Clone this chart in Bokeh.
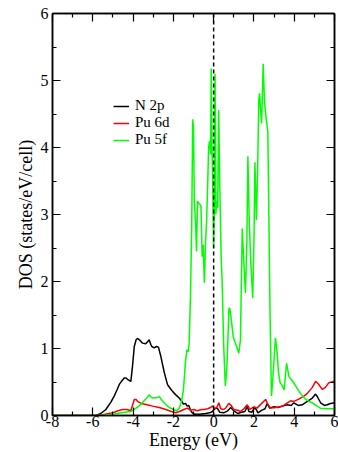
from bokeh.plotting import figure
from bokeh.models import Range1d, FixedTicker, LinearAxis, Span, Legend, LegendItem
from bokeh.embed import file_html
from bokeh.resources import INLINE

# ---- data ----
n2p_e = [-8, -6, -5.85, -5.6, -5.35, -5.1, -4.94, -4.8, -4.69, -4.55, -4.44, -4.35, -4.28, -4.11,
         -4.03, -3.94, -3.85, -3.78, -3.65, -3.53, -3.37, -3.28, -3.2, -3.12, -3.07, -2.95, -2.84,
         -2.74, -2.62, -2.45, -2.29, -2.14, -2.04, -1.85, -1.71, -1.6, -1.5, -1.4, -1.31, -1.23,
         -1.15, -1.06, -0.95, -0.7, -0.4, -0.2, -0.06, 0.05, 0.18, 0.3, 0.5, 0.7, 0.85, 1.0, 1.2,
         1.4, 1.55, 1.67, 1.75, 1.9, 2.0, 2.08, 2.2, 2.4, 2.55, 2.66, 2.78, 2.99, 3.2, 3.4, 3.65,
         3.85, 3.98, 4.2, 4.4, 4.65, 4.9, 5.06, 5.15, 5.31, 5.5, 5.64, 5.8, 6.0]
n2p_dos = [0, 0, 0.0, 0.03, 0.09, 0.2, 0.29, 0.38, 0.46, 0.52, 0.56, 0.56, 0.54, 0.51,
           0.73, 1.03, 1.13, 1.15, 1.12, 1.08, 1.07, 1.1, 1.13, 1.06, 1.03, 1.01, 1.03,
           1.02, 0.88, 0.64, 0.46, 0.4, 0.36, 0.3, 0.26, 0.22, 0.17, 0.18, 0.14, 0.15,
           0.08, 0.04, 0.02, 0.02, 0.03, 0.04, 0.06, 0.1, 0.11, 0.05, 0.04, 0.07, 0.12, 0.07, 0.03,
           0.05, 0.06, 0.14, 0.06, 0.05, 0.1, 0.11, 0.04, 0.08, 0.1, 0.18, 0.11, 0.13, 0.12, 0.14, 0.16,
           0.15, 0.19, 0.15, 0.16, 0.21, 0.26, 0.32, 0.28, 0.19, 0.15, 0.16, 0.18, 0.19]

pu6d_e = [-8, -6, -5.85, -5.5, -5.2, -5.0, -4.75, -4.52, -4.3, -4.11, -4.03, -3.94, -3.85, -3.78,
          -3.6, -3.3, -3.03, -2.7, -2.37, -2.1, -1.88, -1.7, -1.48, -1.31, -1.15, -0.98, -0.82,
          -0.6, -0.48, -0.3, -0.15, -0.07, 0.05, 0.15, 0.26, 0.35, 0.5, 0.62, 0.75, 0.84, 1.0,
          1.2, 1.33, 1.5, 1.67, 1.8, 2.0, 2.15, 2.35, 2.58, 2.7, 2.83, 3.1, 3.3, 3.48, 3.82,
          3.98, 4.2, 4.48, 4.65, 4.9, 5.06, 5.2, 5.39, 5.55, 5.72, 6.0]
pu6d_dos = [0, 0, 0, 0.01, 0.03, 0.04, 0.07, 0.09, 0.09, 0.07, 0.15, 0.24, 0.24, 0.21,
            0.18, 0.16, 0.14, 0.12, 0.09, 0.06, 0.04, 0.06, 0.09, 0.11, 0.08, 0.09, 0.07,
            0.09, 0.09, 0.1, 0.12, 0.14, 0.1, 0.12, 0.19, 0.1, 0.09, 0.12, 0.18, 0.16, 0.09,
            0.08, 0.06, 0.1, 0.16, 0.09, 0.13, 0.11, 0.17, 0.24, 0.16, 0.11, 0.12, 0.13, 0.15, 0.22,
            0.21, 0.24, 0.29, 0.33, 0.42, 0.51, 0.47, 0.39, 0.42, 0.49, 0.51]

pu5f_e = [-8, -6, -5.6, -5.0, -4.6, -4.1, -3.8, -3.6, -3.3, -3.2, -3.1, -3.0, -2.8, -2.7, -2.55,
          -2.4, -2.2, -2.0, -1.85, -1.72, -1.6, -1.5, -1.4, -1.33, -1.27, -1.22, -1.15, -1.09,
          -1.04, -1.0, -0.96, -0.9, -0.85, -0.8, -0.75, -0.68, -0.63, -0.57, -0.52, -0.46, -0.4,
          -0.35, -0.3, -0.25, -0.2, -0.15, -0.12, -0.08, -0.04, 0.0, 0.03, 0.07, 0.11, 0.15, 0.2,
          0.25, 0.3, 0.37, 0.42, 0.5, 0.58, 0.66, 0.76, 0.8, 0.87, 0.97, 1.05, 1.14, 1.25, 1.33,
          1.42, 1.5, 1.58, 1.65, 1.7, 1.76, 1.83, 1.94, 2.0, 2.05, 2.12, 2.18, 2.24, 2.28, 2.32,
          2.38, 2.46, 2.52, 2.6, 2.69, 2.74, 2.8, 2.87, 2.95, 3.07, 3.15, 3.22, 3.3, 3.4, 3.5,
          3.62, 3.74, 3.9, 3.98, 4.15, 4.31, 4.5, 4.73, 4.9, 5.14, 5.3, 5.6, 6.0]
pu5f_dos = [0, 0, 0.0, 0.02, 0.04, 0.06, 0.12, 0.17, 0.27, 0.31, 0.27, 0.26, 0.27, 0.28, 0.22,
            0.17, 0.12, 0.09, 0.07, 0.1, 0.2, 0.38, 0.8, 0.98, 0.95, 1.05, 1.78, 2.8,
            4.42, 4.3, 3.2, 2.9, 2.45, 3.2, 3.17, 3.15, 3.12, 2.37, 2.55, 1.98, 2.6,
            2.9, 3.4, 4.0, 4.1, 3.9, 5.18, 4.0, 3.3, 2.5, 3.0, 5.1, 3.0, 3.2, 3.1,
            4.56, 3.5, 2.4, 2.02, 1.03, 0.44, 0.73, 1.6, 1.6, 1.45, 1.18, 1.1, 1.03, 0.93, 1.13,
            2.79, 2.27, 1.83, 2.6, 3.87, 3.0, 2.37, 1.75, 2.6, 3.78, 2.92, 3.6, 4.7, 4.81, 4.6,
            4.36, 5.25, 4.7, 4.45, 4.23, 3.0, 1.5, 0.29, 0.6, 1.16, 0.94, 0.64, 0.49, 0.45, 0.38,
            0.78, 0.58, 0.52, 0.49, 0.4, 0.33, 0.26, 0.21, 0.19, 0.14, 0.11, 0.1, 0.1]

series_names = ["N 2p", "Pu 6d", "Pu 5f"]
series_colors = ["#000000", "#ff0000", "#00ff00"]

x_major = [-8, -6, -4, -2, 0, 2, 4, 6]
x_minor = [-7, -5, -3, -1, 1, 3, 5]
y_major = [0, 1, 2, 3, 4, 5, 6]
y_minor = [0.5, 1.5, 2.5, 3.5, 4.5, 5.5]
x_title = "Energy (eV)"
y_title = "DOS (states/eV/cell)"

FONT = "Liberation Serif"

p = figure(width=338, height=452, output_backend="svg", toolbar_location=None,
           x_range=Range1d(-8, 6), y_range=Range1d(0, 6),
           min_border_left=52, min_border_right=4, min_border_top=13, min_border_bottom=36)
p.grid.visible = False
p.outline_line_color = "black"
p.outline_line_width = 1.5
p.background_fill_color = "white"
p.border_fill_color = "white"


def style_axis(ax, ticks, minor, show_labels):
    ax.ticker = FixedTicker(ticks=ticks, minor_ticks=minor)
    ax.axis_line_color = "black"
    ax.axis_line_width = 1.5
    ax.major_tick_line_color = "black"
    ax.minor_tick_line_color = "black"
    ax.major_tick_line_width = 1.2
    ax.minor_tick_line_width = 1.2
    ax.major_tick_in = 8
    ax.major_tick_out = 0
    ax.minor_tick_in = 4
    ax.minor_tick_out = 0
    ax.major_label_text_font = FONT
    ax.axis_label_text_font = FONT
    ax.axis_label_text_font_style = "normal"
    ax.axis_label_text_color = "black"
    if show_labels:
        ax.major_label_text_color = "black"
        ax.major_label_text_font_size = "16px"
        ax.axis_label_text_font_size = "18px"
        ax.major_label_overrides = {t: str(t) for t in ticks}
    else:
        ax.major_label_text_color = None
        ax.major_label_text_font_size = "1px"
        ax.major_label_standoff = 0


style_axis(p.xaxis[0], x_major, x_minor, True)
style_axis(p.yaxis[0], y_major, y_minor, True)
p.xaxis[0].axis_label = x_title
p.yaxis[0].axis_label = y_title
p.xaxis[0].major_label_standoff = 0
p.xaxis[0].axis_label_standoff = 0
p.yaxis[0].major_label_standoff = 4
p.yaxis[0].axis_label_standoff = 2

top = LinearAxis()
style_axis(top, x_major, x_minor, False)
p.add_layout(top, "above")
right = LinearAxis()
style_axis(right, y_major, y_minor, False)
p.add_layout(right, "right")

renderers = []
for e, d, c in [(n2p_e, n2p_dos, series_colors[0]),
                (pu6d_e, pu6d_dos, series_colors[1]),
                (pu5f_e, pu5f_dos, series_colors[2])]:
    renderers.append(p.line(e, d, line_color=c, line_width=1.5))

p.add_layout(Span(location=0, dimension="height", line_color="black",
                  line_width=1.5, line_dash="4 3"))

legend = Legend(items=[LegendItem(label=n, renderers=[r]) for n, r in zip(series_names, renderers)],
                location=(61, 267), orientation="vertical")
legend.background_fill_alpha = 0
legend.border_line_alpha = 0
legend.padding = 0
legend.margin = 0
legend.spacing = 0
legend.glyph_width = 16
legend.glyph_height = 16
legend.label_height = 16
legend.label_standoff = 6
legend.label_text_font = FONT
legend.label_text_font_size = "15px"
legend.label_text_color = "black"
p.add_layout(legend, "center")

open("out.html", "w").write(file_html(p, INLINE))
